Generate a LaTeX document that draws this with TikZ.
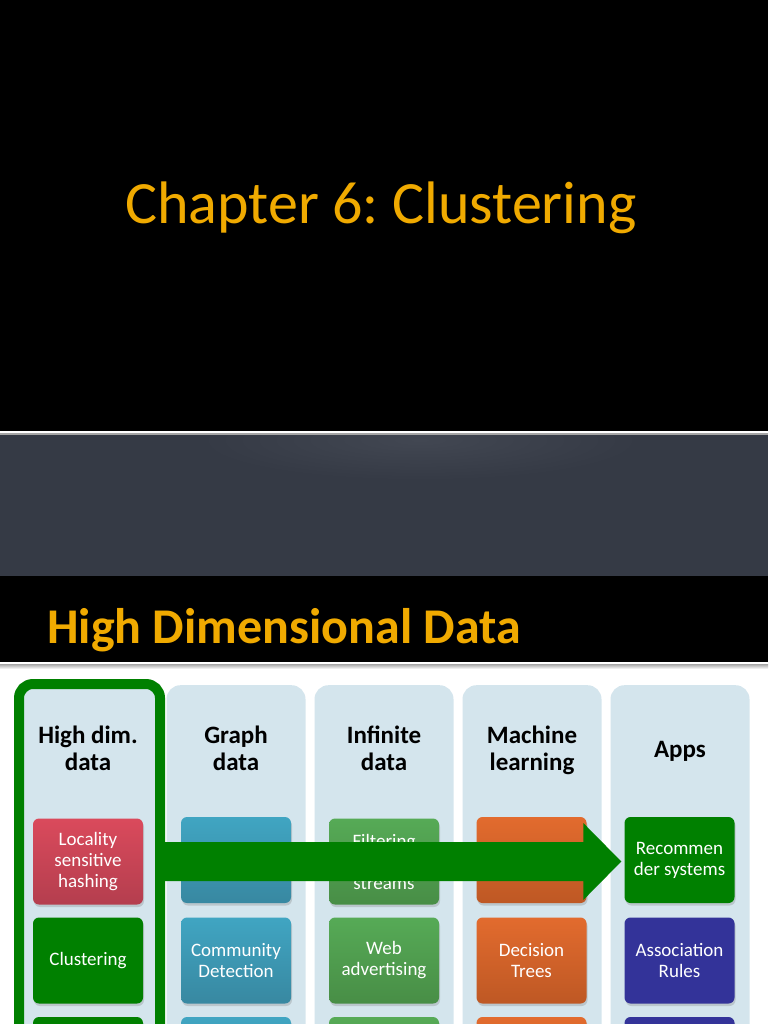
\documentclass[tikz,border=0pt]{standalone}
\usepackage{fontspec}
\setmainfont{Carlito}
\frenchspacing
\usetikzlibrary{calc,shadows}
\definecolor{titleor}{RGB}{240,170,0}
\definecolor{slate}{RGB}{53,58,69}
\definecolor{slatehi}{RGB}{66,71,82}
\definecolor{colbg}{RGB}{212,229,237}
\definecolor{hgreen}{RGB}{0,128,0}
\definecolor{redT}{RGB}{218,74,92}
\definecolor{redB}{RGB}{180,62,78}
\definecolor{tealT}{RGB}{64,165,194}
\definecolor{tealB}{RGB}{56,136,161}
\definecolor{grnT}{RGB}{86,170,86}
\definecolor{grnB}{RGB}{72,142,70}
\definecolor{orT}{RGB}{226,107,46}
\definecolor{orB}{RGB}{190,88,36}
\definecolor{purp}{RGB}{51,51,153}
\begin{document}
\begin{tikzpicture}[x=1pt,y=-1pt,
  colm/.style={fill=colbg, rounded corners=14pt, minimum width=139pt, minimum height=420pt, anchor=north, inner sep=0pt},
  hdr/.style={font=\fontsize{25}{27}\selectfont\bfseries, align=center, text=black, inner sep=0pt},
  box/.style={rounded corners=6pt, minimum width=110pt, minimum height=86pt, text=white, align=center, inner sep=0pt,
     font=\fontsize{19}{21}\selectfont, drop shadow={opacity=0.3, shadow xshift=1pt, shadow yshift=-2.5pt}},
  redbox/.style={box, top color=redT, bottom color=redB},
  tealbox/.style={box, top color=tealT, bottom color=tealB},
  grnbox/.style={box, top color=grnT, bottom color=grnB},
  orbox/.style={box, top color=orT, bottom color=orB},
  purpbox/.style={box, fill=purp},
  hlbox/.style={box, fill=hgreen},
  ttl/.style={text=titleor, inner sep=0pt, anchor=base west}
]
\useasboundingbox (0,0) rectangle (768,1024);
\clip (0,0) rectangle (768,1024);
% backgrounds
\fill[black] (0,0) rectangle (768,431);
\fill[slate] (0,435) rectangle (768,576);
\begin{scope}
\clip (0,435) rectangle (768,576);
\shade[inner color=slatehi, outer color=slate] (420,440) ellipse [x radius=220pt, y radius=40pt];
\end{scope}
\fill[black] (0,576) rectangle (768,662);
\fill[white] (0,662) rectangle (768,1024);
\fill[white] (0,431) rectangle (768,433);
\fill[gray!70] (0,433) rectangle (768,435);
\fill[white] (0,662) rectangle (768,664);
\shade[top color=gray!70, bottom color=white] (0,664) rectangle (768,669);
% titles
\node[ttl, font=\fontsize{60}{66}\selectfont] (t1) at (125,224) {Chapter 6: Clustering};
\node[ttl, font=\fontsize{50}{55}\selectfont\bfseries] (t2) at (47,643) {High Dimensional Data};
% columns
\node[colm, minimum width=141pt] (col1) at (89.5,684) {};
\node[colm] (col2) at (236,685) {};
\node[colm] (col3) at (384,685) {};
\node[colm] (col4) at (532,685) {};
\node[colm] (col5) at (680,685) {};
\draw[hgreen, line width=10pt, rounded corners=14pt] (19,1100) -- (19,684) -- (160,684) -- (160,1100);
% headers
\node[hdr, anchor=north] (h1) at (88,726) {High dim.\\data};
\node[hdr, anchor=north] (h2) at (236,726) {Graph\\data};
\node[hdr, anchor=north] (h3) at (384,726) {Infinite\\data};
\node[hdr, anchor=north] (h4) at (532,726) {Machine\\learning};
\node[hdr] (h5) at (680,751) {Apps};
% row 1
\node[redbox] (lsh) at (88,861.5) {Locality\\sensitive\\hashing};
\node[tealbox] (b12) at (236,860) {};
\node[grnbox] (filt) at (384,861.5) {Filtering\\data\\streams};
\node[orbox] (b14) at (531.5,860) {};
\node[hlbox] (rec) at (679.5,860) {Recommen\\der systems};
% row 2
\node[hlbox] (clu) at (88,960.5) {Clustering};
\node[tealbox] (com) at (236,960.5) {Community\\Detection};
\node[grnbox] (web) at (384,960.5) {Web\\advertising};
\node[orbox] (dt) at (531.5,960.5) {Decision\\Trees};
\node[purpbox] (ar) at (679.5,960.5) {Association\\Rules};
% row 3 (partially visible)
\node[hlbox] (r31) at (88,1060) {};
\node[tealbox] (r32) at (236,1060) {};
\node[grnbox] (r33) at (384,1060) {};
\node[orbox] (r34) at (531.5,1060) {};
\node[purpbox] (r35) at (679.5,1060) {};
% big arrow from high dim. data column to recommender systems
\coordinate (aS) at ($(col1.east |- rec)+(5,1.5)$);
\coordinate (aT) at ($(rec.west)+(-3,1.5)$);
\fill[hgreen] ($(aS)+(0,-19.5)$) -- ($(aT)+(-38,-19.5)$) -- ($(aT)+(-38,-38.5)$) -- (aT)
   -- ($(aT)+(-38,38.5)$) -- ($(aT)+(-38,19.5)$) -- ($(aS)+(0,19.5)$) -- cycle;
\end{tikzpicture}
\end{document}
